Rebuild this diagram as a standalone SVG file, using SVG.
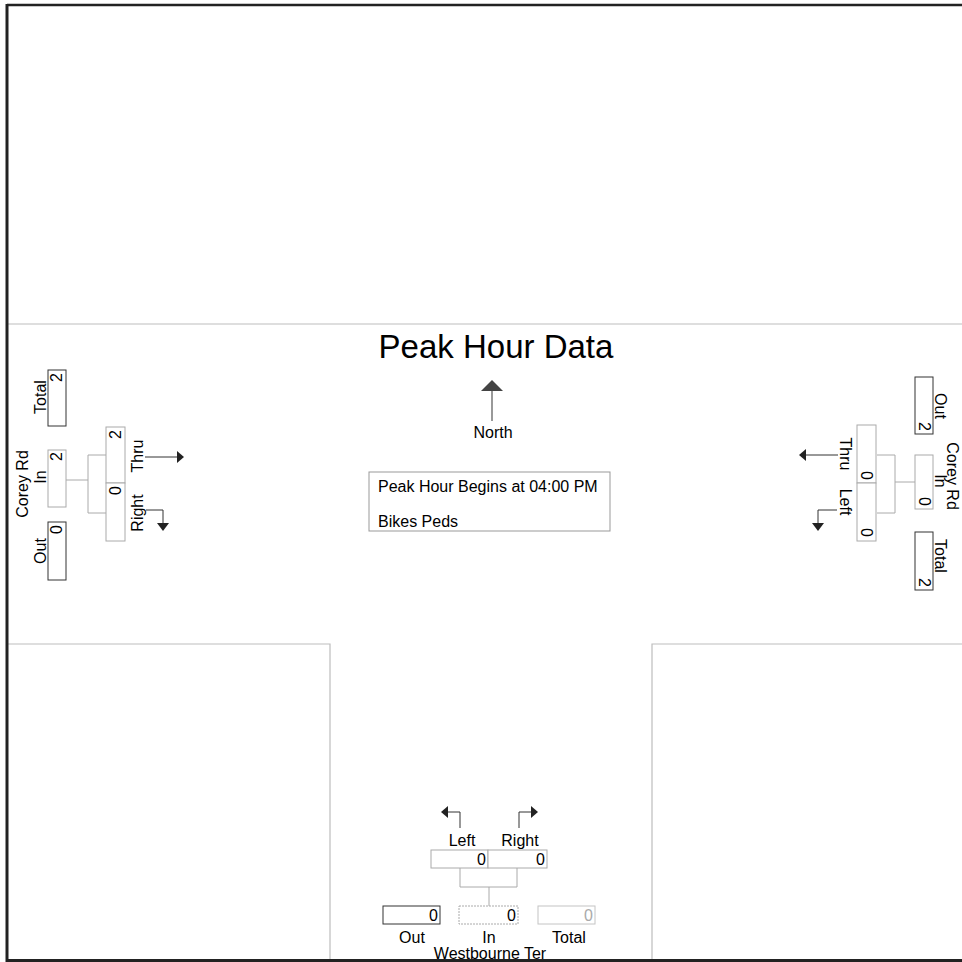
<svg xmlns="http://www.w3.org/2000/svg" width="962" height="962" viewBox="0 0 962 962">
<style>
text{font-family:"Liberation Sans",Arial,sans-serif;fill:#000;}
.lbl{font-size:16px;}
.num{font-size:16px;}
.road{stroke:#bdbdbd;stroke-width:1.2;fill:none;}
.bxk{fill:#fff;stroke:#333;stroke-width:1;}
.bxg{fill:#fff;stroke:#aaa;stroke-width:1;}
.bxl{fill:#fff;stroke:#c4c4c4;stroke-width:1;}
.con{stroke:#aaa;stroke-width:1;fill:none;}
.arr{stroke:#333;stroke-width:1;fill:none;}
.ah{fill:#222;}
</style>
<rect x="0" y="0" width="962" height="962" fill="#fff"/>
<g id="roads">
<line class="road" x1="8" y1="324" x2="962" y2="324"/>
<polyline class="road" points="8,644 330,644 330,960"/>
<polyline class="road" points="962,644 652,644 652,960"/>
</g>
<g id="title">
<text x="496" y="358" font-size="33" text-anchor="middle">Peak Hour Data</text>
</g>
<g id="north">
<line x1="492" y1="390" x2="492" y2="421" stroke="#555" stroke-width="1.2"/>
<polygon points="492,380 481,391 503,391" fill="#444"/>
<text class="lbl" x="493" y="438" text-anchor="middle">North</text>
</g>
<g id="info">
<rect x="369" y="472" width="241" height="59" fill="#fff" stroke="#999" stroke-width="1"/>
<text class="lbl" x="378" y="492">Peak Hour Begins at 04:00 PM</text>
<text class="lbl" x="378" y="527">Bikes  Peds</text>
</g>
<g id="connectors">
<polyline class="con" points="66,480 88,480"/>
<polyline class="con" points="106,455 88,455 88,513 106,513"/>
<polyline class="con" points="915,482 895,482"/>
<polyline class="con" points="877,455 895,455 895,513 877,513"/>
<polyline class="con" points="460,868 460,887 517,887 517,868"/>
<polyline class="con" points="489,887 489,906"/>
<polyline class="arr" points="145,457 178,457"/>
<polygon class="ah" points="184,457 177,451 177,463"/>
<polyline class="arr" points="146,510 163,510 163,523"/>
<polygon class="ah" points="163,531 157,523 169,523"/>
<polyline class="arr" points="838,455 806,455"/>
<polygon class="ah" points="799,455 806,449 806,461"/>
<polyline class="arr" points="837,510 818,510 818,523"/>
<polygon class="ah" points="818,531 812,523 824,523"/>
<polyline class="arr" points="460,828 460,812 448,812"/>
<polygon class="ah" points="441,812 448,806 448,818"/>
<polyline class="arr" points="519,828 519,812 531,812"/>
<polygon class="ah" points="538,812 531,806 531,818"/>
</g>
<g id="west-total">
<rect class="bxk" x="48" y="370" width="18" height="56"/>
<text class="num" transform="translate(62,373) rotate(-90)" text-anchor="end">2</text>
<text class="lbl" transform="translate(46,397) rotate(-90)" text-anchor="middle">Total</text>
</g>
<g id="west-in">
<rect class="bxg" x="48" y="450" width="18" height="57"/>
<text class="num" transform="translate(62,452) rotate(-90)" text-anchor="end">2</text>
<text class="lbl" transform="translate(46,477) rotate(-90)" text-anchor="middle">In</text>
<text class="lbl" transform="translate(28,484) rotate(-90)" text-anchor="middle">Corey Rd</text>
</g>
<g id="west-out">
<rect class="bxk" x="48" y="522" width="18" height="58"/>
<text class="num" transform="translate(62,525) rotate(-90)" text-anchor="end">0</text>
<text class="lbl" transform="translate(46,551) rotate(-90)" text-anchor="middle">Out</text>
</g>
<g id="west-thru">
<rect class="bxg" x="106" y="427" width="19" height="56"/>
<text class="num" transform="translate(121,430) rotate(-90)" text-anchor="end">2</text>
<text class="lbl" transform="translate(143,456) rotate(-90)" text-anchor="middle">Thru</text>
</g>
<g id="west-right">
<rect class="bxg" x="106" y="483" width="19" height="58"/>
<text class="num" transform="translate(121,486) rotate(-90)" text-anchor="end">0</text>
<text class="lbl" transform="translate(143,513) rotate(-90)" text-anchor="middle">Right</text>
</g>
<g id="east-out">
<rect class="bxk" x="915" y="377" width="18" height="57"/>
<text class="num" transform="translate(919,431) rotate(90)" text-anchor="end">2</text>
<text class="lbl" transform="translate(935,406) rotate(90)" text-anchor="middle">Out</text>
</g>
<g id="east-in">
<rect class="bxg" x="915" y="455" width="18" height="54"/>
<text class="num" transform="translate(919,506) rotate(90)" text-anchor="end">0</text>
<text class="lbl" transform="translate(935,481) rotate(90)" text-anchor="middle">In</text>
<text class="lbl" transform="translate(947,476) rotate(90)" text-anchor="middle">Corey Rd</text>
</g>
<g id="east-total">
<rect class="bxk" x="915" y="532" width="18" height="58"/>
<text class="num" transform="translate(919,587) rotate(90)" text-anchor="end">2</text>
<text class="lbl" transform="translate(935,556) rotate(90)" text-anchor="middle">Total</text>
</g>
<g id="east-thru">
<rect class="bxg" x="857" y="425" width="19" height="58"/>
<text class="num" transform="translate(861,480) rotate(90)" text-anchor="end">0</text>
<text class="lbl" transform="translate(840,454) rotate(90)" text-anchor="middle">Thru</text>
</g>
<g id="east-left">
<rect class="bxg" x="857" y="483" width="19" height="58"/>
<text class="num" transform="translate(861,537) rotate(90)" text-anchor="end">0</text>
<text class="lbl" transform="translate(840,502) rotate(90)" text-anchor="middle">Left</text>
</g>
<g id="south-left">
<rect class="bxg" x="431" y="850" width="57" height="18"/>
<text class="num" x="486" y="865" text-anchor="end">0</text>
<text class="lbl" x="462" y="846" text-anchor="middle">Left</text>
</g>
<g id="south-right">
<rect class="bxg" x="488" y="850" width="59" height="18"/>
<text class="num" x="545" y="865" text-anchor="end">0</text>
<text class="lbl" x="520" y="846" text-anchor="middle">Right</text>
</g>
<g id="south-out">
<rect class="bxk" x="383" y="906" width="57" height="18"/>
<text class="num" x="438" y="921" text-anchor="end">0</text>
<text class="lbl" x="412" y="943" text-anchor="middle">Out</text>
</g>
<g id="south-in">
<rect class="bxg" x="459" y="906" width="59" height="18" stroke-dasharray="2,1"/>
<text class="num" x="516" y="921" text-anchor="end">0</text>
<text class="lbl" x="489" y="943" text-anchor="middle">In</text>
<text class="lbl" x="490" y="959" text-anchor="middle">Westbourne Ter</text>
</g>
<g id="south-total">
<rect class="bxl" x="538" y="906" width="57" height="18"/>
<text class="num" x="593" y="921" text-anchor="end" style="fill:#aaa">0</text>
<text class="lbl" x="569" y="943" text-anchor="middle">Total</text>
</g>
<g id="frame">
<line x1="7" y1="5" x2="962" y2="5" stroke="#222" stroke-width="2.5"/>
<line x1="7" y1="4" x2="7" y2="962" stroke="#222" stroke-width="3"/>
<line x1="6" y1="960.5" x2="962" y2="960.5" stroke="#222" stroke-width="3"/>
</g>
</svg>
